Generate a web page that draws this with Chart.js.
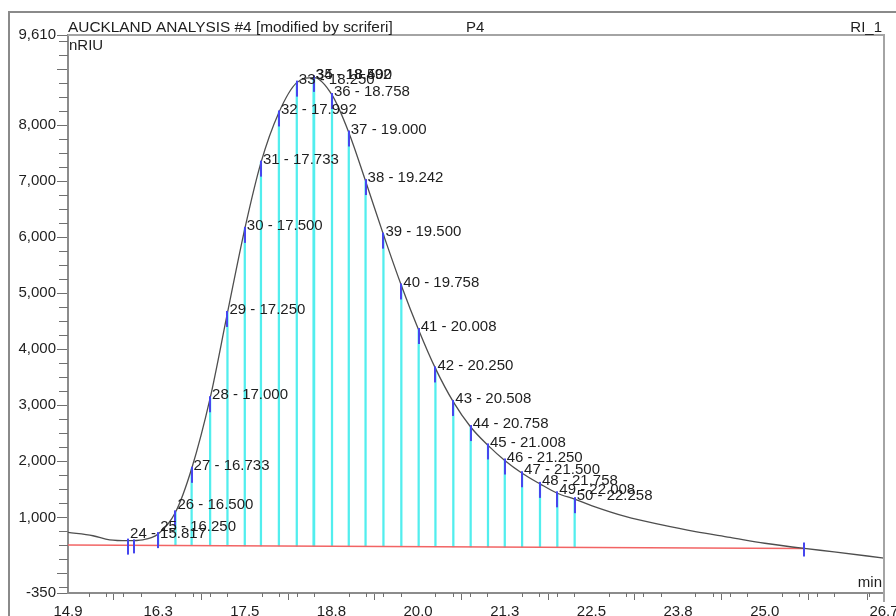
<!DOCTYPE html>
<html>
<head>
<meta charset="utf-8">
<script src="https://cdn.jsdelivr.net/npm/chart.js@4.4.0/dist/chart.umd.min.js"></script>
<style>
html, body { margin: 0; padding: 0; background: #fff; }
canvas { display: block; }
</style>
</head>
<body>
<canvas id="chrom" width="896" height="616"></canvas>
<script>
// RI trace (nRIU), time in min
const curveTimes = [14.95, 15.31, 15.55, 15.817, 16.03, 16.25, 16.5, 16.733, 17.0, 17.25,
    17.5, 17.733, 17.992, 18.25, 18.5, 18.758, 19.0, 19.242, 19.5, 19.758,
    20.008, 20.25, 20.508, 20.758, 21.008, 21.25, 21.5, 21.758, 22.008, 22.258,
    22.5, 23.0, 23.5, 24.0, 24.5, 25.0, 25.57, 26.0, 26.72];
const curveValues = [731, 672, 600, 585, 600, 702, 1090, 1867, 3127, 4650,
    6150, 7332, 8228, 8760, 8850, 8540, 7870, 7003, 6047, 5140,
    4345, 3659, 3061, 2613, 2285, 2016, 1788, 1598, 1430, 1325,
    1210, 1012, 869, 744, 642, 538, 445, 385, 273];

// fraction marks
const fracIds = [24, 25, 26, 27, 28, 29, 30, 31, 32, 33, 34, 35, 36, 37, 38, 39, 40, 41, 42, 43, 44, 45, 46, 47, 48, 49, 50];
const fracTimes = [15.817, 16.250, 16.500, 16.733, 17.000, 17.250, 17.500, 17.733, 17.992, 18.250, 18.492, 18.500, 18.758,
    19.000, 19.242, 19.500, 19.758, 20.008, 20.250, 20.508, 20.758, 21.008, 21.250, 21.500, 21.758, 22.008, 22.258];
const fracHeights = [585, 702, 1090, 1867, 3127, 4650, 6150, 7332, 8228, 8760, 8850, 8850, 8540,
    7870, 7003, 6047, 5140, 4345, 3659, 3061, 2613, 2285, 2016, 1788, 1598, 1430, 1325];

// baseline and peak delimiters
const baselineTimes = [14.95, 25.57];
const baselineValues = [506, 445];
const peakBounds = [15.9, 25.57];

// axes
const xMajorTicks = [14.95, 16.25, 17.5, 18.75, 20.0, 21.25, 22.5, 23.75, 25.0, 26.25, 26.72];
const xUnlabeled = [26.25];
const yMajorTicks = [-350, 0, 1000, 2000, 3000, 4000, 5000, 6000, 7000, 8000, 9000, 9610];
const yUnlabeled = [0, 9000];

const FONT = '"Liberation Sans", Arial, sans-serif';
const TXT = '#1e1e1e';

const baselineAt = t => {
    const [t0, t1] = baselineTimes, [v0, v1] = baselineValues;
    return v0 + (v1 - v0) * (t - t0) / (t1 - t0);
};

const mark = (h, y0, y1) => {
    const c = document.createElement('canvas');
    c.width = 2; c.height = h;
    const g = c.getContext('2d');
    g.fillStyle = '#4646ee';
    g.fillRect(0, y0, 2, y1 - y0);
    return c;
};
const fracMark = mark(32, 14, 30);
const boundMark = mark(24, 6, 20);

const decor = {
    id: 'decor',
    beforeDraw(chart) {
        const {ctx} = chart;
        ctx.save();
        ctx.strokeStyle = '#8a8a8a';
        ctx.lineWidth = 2;
        ctx.beginPath();
        ctx.moveTo(9, 616); ctx.lineTo(9, 12); ctx.lineTo(896, 12);
        ctx.stroke();
        ctx.restore();
    },
    afterDraw(chart) {
        const {ctx, chartArea: a, scales: {x, y}} = chart;
        ctx.save();
        // plot frame top/right
        ctx.strokeStyle = '#a4a4a4';
        ctx.lineWidth = 2;
        ctx.beginPath();
        ctx.moveTo(a.left, a.top); ctx.lineTo(a.right, a.top); ctx.lineTo(a.right, 602);
        ctx.stroke();

        // minor ticks
        ctx.strokeStyle = '#707070';
        ctx.lineWidth = 1;
        ctx.beginPath();
        for (let k = 61; k <= 106; k++) {
            if (k % 5 === 0) continue;
            const px = Math.round(x.getPixelForValue(k / 4)) + 0.5;
            ctx.moveTo(px, a.bottom); ctx.lineTo(px, a.bottom + 4);
        }
        for (let k = -1; k <= 38; k++) {
            if (k % 4 === 0) continue;
            const py = Math.round(y.getPixelForValue(k * 250)) + 0.5;
            ctx.moveTo(a.left - 9, py); ctx.lineTo(a.left, py);
        }
        ctx.stroke();

        // header texts
        ctx.fillStyle = TXT;
        ctx.textBaseline = 'alphabetic';
        ctx.textAlign = 'left';
        ctx.font = '15.4px ' + FONT;
        ctx.fillText('AUCKLAND ANALYSIS #4 [modified by scriferi]', 68, 32);
        ctx.font = '15px ' + FONT;
        ctx.fillText('P4', 466, 32);
        ctx.fillText('nRIU', 69, 50);
        ctx.textAlign = 'right';
        ctx.fillText('RI_1', 882, 32);
        ctx.fillText('min', 882, 587);

        // fraction labels
        ctx.textAlign = 'left';
        ctx.textBaseline = 'middle';
        fracIds.forEach((id, i) => {
            const px = x.getPixelForValue(fracTimes[i]);
            const py = y.getPixelForValue(fracHeights[i]);
            const lift = fracHeights[i] < 1200 ? 7 : 3;
            ctx.fillText(id + ' - ' + fracTimes[i].toFixed(3), px + 2, py - lift);
        });
        ctx.restore();
    }
};

const ctx = document.getElementById('chrom').getContext('2d');
const chart = new Chart(ctx, {
    type: 'scatter',
    data: {
        datasets: [
            {
                type: 'line',
                label: 'RI_1',
                data: curveTimes.map((t, i) => ({x: t, y: curveValues[i]})),
                borderColor: '#4e4e4e',
                borderWidth: 1.3,
                pointRadius: 0,
                cubicInterpolationMode: 'monotone',
                order: 2
            },
            {
                type: 'line',
                label: 'baseline',
                data: baselineTimes.map((t, i) => ({x: t, y: baselineValues[i]})),
                borderColor: '#f26464',
                borderWidth: 1.6,
                pointRadius: 0,
                order: 3
            },
            {
                type: 'bar',
                label: 'fractions',
                data: fracTimes.map((t, i) => ({x: t, y: [baselineAt(t), fracHeights[i]]}))
                    .filter(d => d.x >= peakBounds[0]),
                backgroundColor: '#52eeee',
                borderWidth: 0,
                barThickness: 1.6,
                order: 5
            },
            {
                type: 'scatter',
                label: 'marks',
                data: fracTimes.map((t, i) => ({x: t, y: fracHeights[i]})),
                pointStyle: fracMark,
                pointRadius: 8,
                order: 1
            },
            {
                type: 'scatter',
                label: 'bounds',
                data: peakBounds.map(t => ({x: t, y: baselineAt(t)})),
                pointStyle: boundMark,
                pointRadius: 8,
                order: 1
            }
        ]
    },
    options: {
        responsive: false,
        animation: false,
        devicePixelRatio: 1,
        layout: {padding: {top: 35, right: 12, left: 0, bottom: 0}},
        plugins: {legend: {display: false}, tooltip: {enabled: false}},
        events: [],
        scales: {
            x: {
                type: 'linear',
                min: 14.95,
                max: 26.72,
                offset: false,
                afterBuildTicks: s => { s.ticks = xMajorTicks.map(v => ({value: v})); },
                afterFit: s => { s.height = 23; s.paddingLeft = 0; s.paddingRight = 0; },
                grid: {drawOnChartArea: false, tickLength: 7, color: '#707070'},
                border: {color: '#8c8c8c', width: 2},
                ticks: {
                    autoSkip: false,
                    maxRotation: 0,
                    padding: 3,
                    color: TXT,
                    font: {family: FONT, size: 15},
                    callback: v => xUnlabeled.includes(v) ? '' : v.toFixed(1)
                }
            },
            y: {
                type: 'linear',
                min: -350,
                max: 9610,
                afterBuildTicks: s => { s.ticks = yMajorTicks.map(v => ({value: v})); },
                afterFit: s => { s.width = 68; s.paddingTop = 0; s.paddingBottom = 0; },
                grid: {drawOnChartArea: false, tickLength: 11, color: '#707070'},
                border: {color: '#8c8c8c', width: 2},
                ticks: {
                    padding: 1,
                    color: TXT,
                    font: {family: FONT, size: 15},
                    callback: v => yUnlabeled.includes(v) ? '' : v.toLocaleString('en-US')
                }
            }
        }
    },
    plugins: [decor]
});
</script>
</body>
</html>
